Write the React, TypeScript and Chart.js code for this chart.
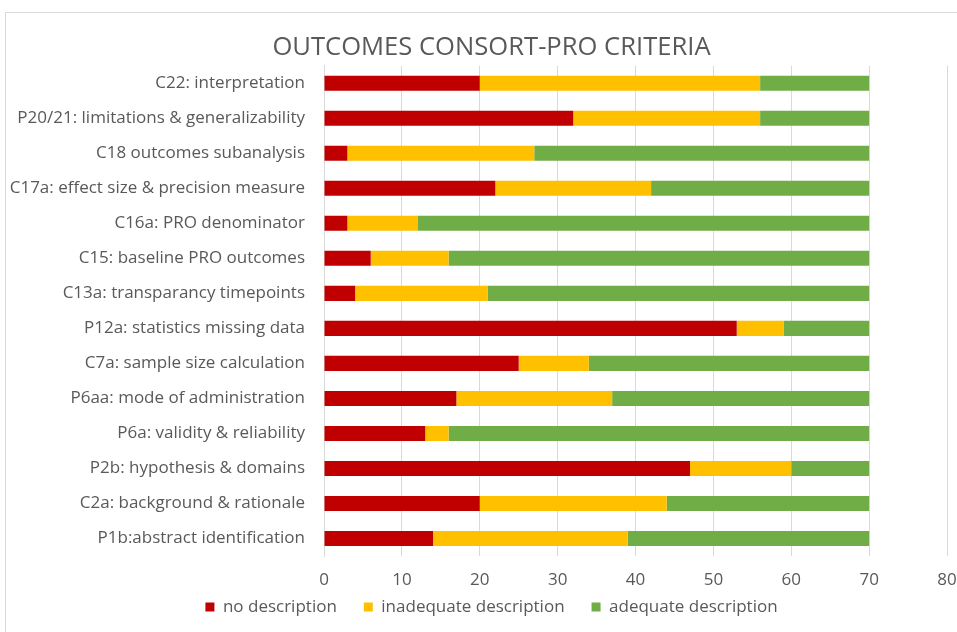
import React, { useEffect, useRef } from "react";
import { Chart, registerables } from "chart.js";

Chart.register(...registerables);

const categories = [
  "C22: interpretation",
  "P20/21: limitations & generalizability",
  "C18 outcomes subanalysis",
  "C17a: effect size & precision measure",
  "C16a: PRO denominator",
  "C15: baseline PRO outcomes",
  "C13a: transparancy timepoints",
  "P12a: statistics missing data",
  "C7a: sample size calculation",
  "P6aa: mode of administration",
  "P6a: validity & reliability",
  "P2b: hypothesis & domains",
  "C2a: background & rationale",
  "P1b:abstract identification",
];

const noDescription = [20, 32, 3, 22, 3, 6, 4, 53, 25, 17, 13, 47, 20, 14];
const inadequateDescription = [36, 24, 24, 20, 9, 10, 17, 6, 9, 20, 3, 13, 24, 25];
const adequateDescription = [14, 14, 43, 28, 58, 54, 49, 11, 36, 33, 54, 10, 26, 31];

const seriesNames = ["no description", "inadequate description", "adequate description"];
const xTicks = [0, 10, 20, 30, 40, 50, 60, 70, 80];

const FONT = "'Open Sans', sans-serif";
const TEXT = "#595959";
const LEGEND_PAD = 27;
const LEGEND_FONT = 17;

const shiftPlugin = {
  id: "shiftBoxes",
  afterLayout(chart: any) {
    const t = chart.titleBlock;
    if (t) {
      t.left += 13;
      t.right += 13;
    }
    const l = chart.legend;
    if (l) {
      const dy = 607 - (l.top + LEGEND_PAD + LEGEND_FONT / 2);
      l.top += dy;
      l.bottom = l.top + LEGEND_PAD + LEGEND_FONT + 12;
      l.height = l.bottom - l.top;
      l.left += 13;
      l.right += 13;
    }
  },
};

export default function App() {
  const ref = useRef<HTMLCanvasElement | null>(null);

  useEffect(() => {
    document.body.style.margin = "0";
    const canvas = ref.current;
    if (!canvas) return;
    const chart = new Chart(canvas, {
      type: "bar",
      data: {
        labels: categories,
        datasets: [
          { label: seriesNames[0], data: noDescription, backgroundColor: "#C00000" },
          { label: seriesNames[1], data: inadequateDescription, backgroundColor: "#FFC000" },
          { label: seriesNames[2], data: adequateDescription, backgroundColor: "#70AD47" },
        ],
      },
      plugins: [shiftPlugin],
      options: {
        indexAxis: "y",
        responsive: false,
        animation: false,
        maintainAspectRatio: false,
        datasets: { bar: { barPercentage: 0.43, categoryPercentage: 1 } },
        layout: { padding: { top: 18, right: 0, bottom: 10, left: 0 } },
        scales: {
          x: {
            stacked: true,
            min: 0,
            max: 80,
            afterBuildTicks: (scale: any) => {
              scale.ticks = xTicks.map((v) => ({ value: v }));
            },
            afterFit: (scale: any) => {
              scale.height = 36;
              scale.paddingRight = 10;
            },
            grid: { color: "#d9d9d9", lineWidth: 1, drawTicks: false },
            border: { display: false },
            ticks: { color: TEXT, font: { family: FONT, size: 17 }, padding: 14 },
          },
          y: {
            stacked: true,
            afterFit: (scale: any) => {
              scale.width = 324;
            },
            grid: { display: false, drawTicks: false },
            border: { display: true, color: "#d9d9d9" },
            ticks: { color: TEXT, font: { family: FONT, size: 17 }, padding: 19, autoSkip: false },
          },
        },
        plugins: {
          title: {
            display: true,
            text: "OUTCOMES CONSORT-PRO CRITERIA",
            color: TEXT,
            font: { family: FONT, size: 25.6, weight: "normal" },
            padding: { top: 14, bottom: 3 },
          },
          legend: {
            position: "bottom",
            maxHeight: 30,
            labels: {
              color: TEXT,
              font: { family: FONT, size: LEGEND_FONT },
              boxWidth: 9,
              boxHeight: 9,
              padding: LEGEND_PAD,
            },
          },
          tooltip: { enabled: false },
        },
      },
    });
    return () => chart.destroy();
  }, []);

  return (
    <div style={{ position: "relative", width: 957, height: 632, overflow: "hidden", background: "#fff" }}>
      <div
        style={{
          position: "absolute",
          left: 5,
          top: 12,
          width: 1000,
          height: 700,
          border: "1px solid #d9d9d9",
        }}
      />
      <canvas ref={ref} width={957} height={632} style={{ position: "absolute", left: 0, top: 0 }} />
    </div>
  );
}
